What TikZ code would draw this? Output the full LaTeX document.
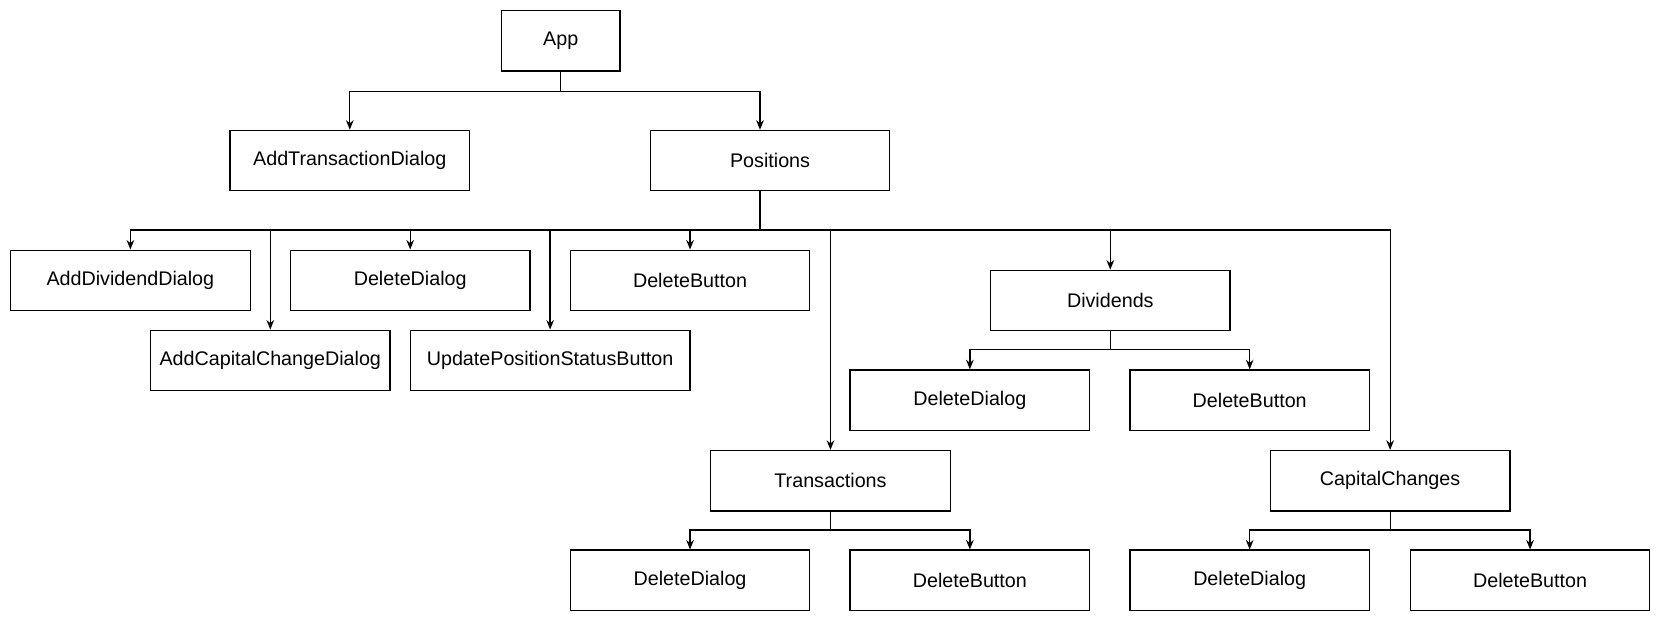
\documentclass[tikz,border=0pt]{standalone}
\usepackage{fontspec}
\setmainfont{Liberation Sans}
\usetikzlibrary{arrows.meta,calc}
\begin{document}
\begin{tikzpicture}[x=0.5pt,y=-0.5pt,
  box/.style={draw=black,line width=0.6pt,fill=white,minimum height=28.5pt,inner sep=0pt,font=\fontsize{9.3pt}{11pt}\selectfont},
  w226/.style={minimum width=113pt},
  arr/.style={line width=0.6pt,-{Stealth[length=4.5pt,width=3.6pt]}},
  ln/.style={line width=0.6pt}]
\useasboundingbox (0,0) rectangle (1568,586);
% nodes
\node[box,minimum width=56pt] (app) at (529,38.5) {App};
\node[box,w226] (atd) at (330,151.5) {AddTransactionDialog};
\node[box,w226] (pos) at (726.5,151.5) {Positions};
\node[box,w226] (add) at (123,264.5) {AddDividendDialog};
\node[box,w226] (dd1) at (387,264.5) {DeleteDialog};
\node[box,w226] (db1) at (651,264.5) {DeleteButton};
\node[box,w226] (acc) at (255,340) {AddCapitalChangeDialog};
\node[box,minimum width=132pt] (ups) at (519,340) {UpdatePositionStatusButton};
\node[box,w226] (div) at (1047.5,283.5) {Dividends};
\node[box,w226] (dd2) at (915,377.5) {DeleteDialog};
\node[box,w226] (db2) at (1179,377.5) {DeleteButton};
\node[box,w226] (tra) at (783.5,453.5) {Transactions};
\node[box,w226] (cap) at (1311.5,453.5) {CapitalChanges};
\node[box,w226] (dd3) at (651,547.5) {DeleteDialog};
\node[box,w226] (db3) at (915,547.5) {DeleteButton};
\node[box,w226] (dd4) at (1179,547.5) {DeleteDialog};
\node[box,w226] (db4) at (1443.5,547.5) {DeleteButton};
% bus coordinates
\coordinate (appbus) at (529,86);
\coordinate (posbus) at (717,217);
\coordinate (divbus) at (1047.5,330);
\coordinate (trabus) at (783.5,500);
\coordinate (capbus) at (1311.5,500);
% App edges
\draw[arr] (app.south) -- (appbus) -| (atd.north);
\draw[arr] (app.south) -- (appbus) -| (posbus |- pos.north);
% Positions edges
\foreach \c in {add,dd1,db1,acc,ups,tra,div,cap}
  \draw[arr] (posbus |- pos.south) -- (posbus) -| (\c.north);
% Dividends
\foreach \c in {dd2,db2}
  \draw[arr] (div.south) -- (divbus) -| (\c.north);
% Transactions
\foreach \c in {dd3,db3}
  \draw[arr] (tra.south) -- (trabus) -| (\c.north);
% CapitalChanges
\foreach \c in {dd4,db4}
  \draw[arr] (cap.south) -- (capbus) -| (\c.north);
\end{tikzpicture}
\end{document}
